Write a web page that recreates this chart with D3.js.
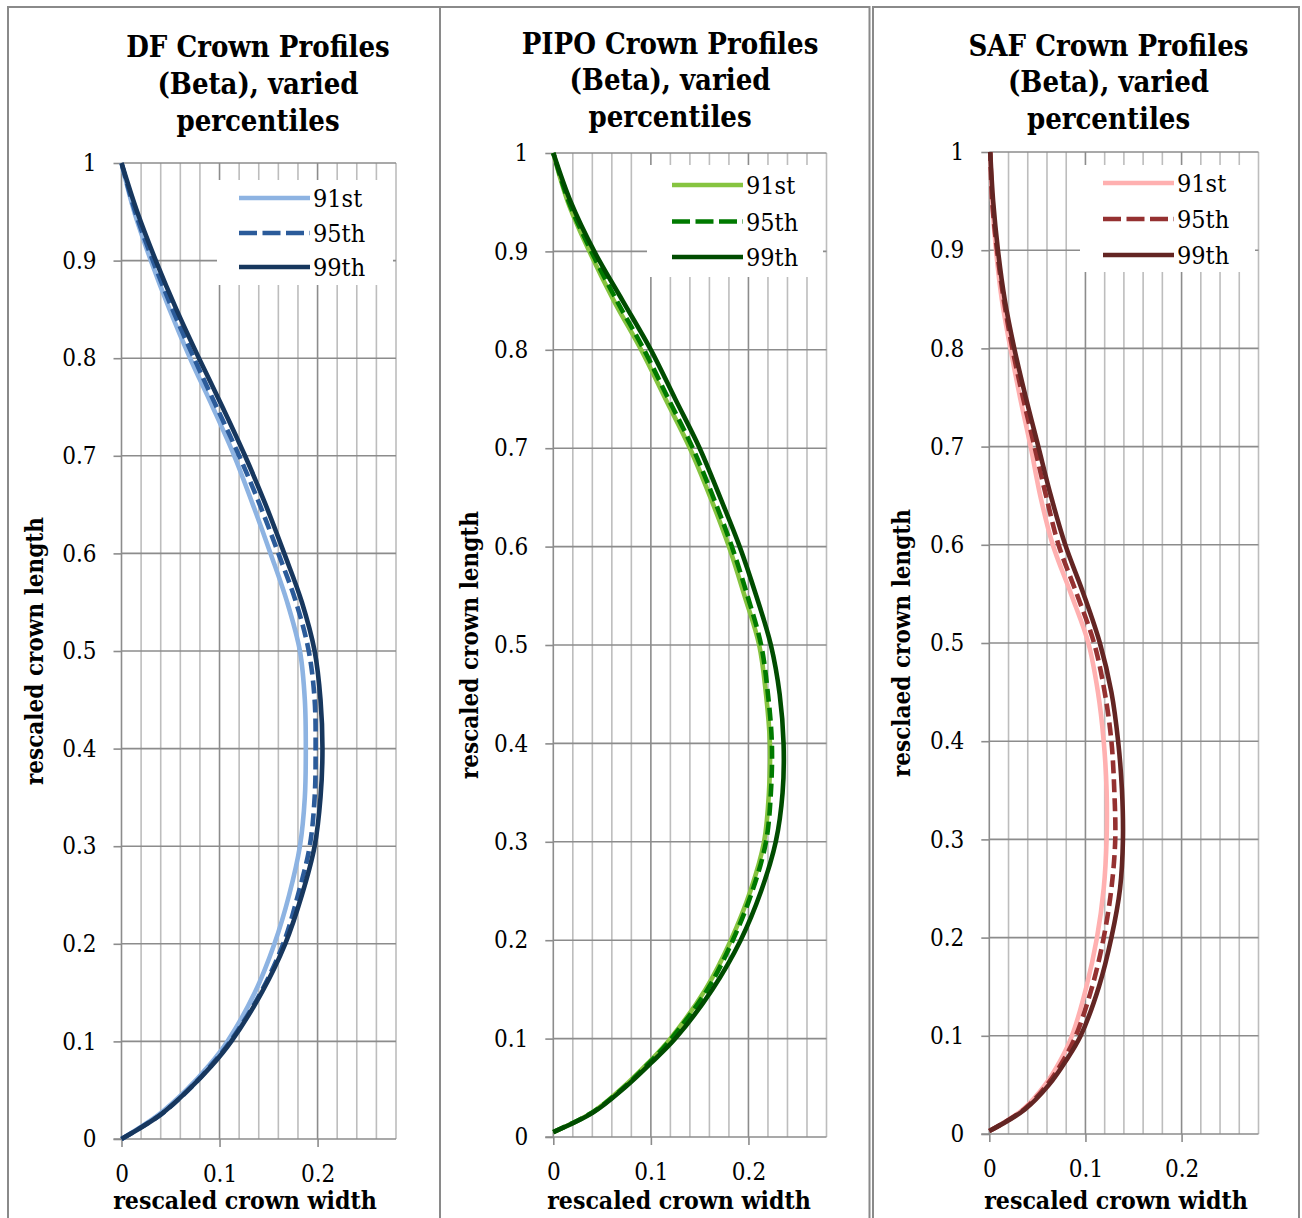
<!DOCTYPE html>
<html>
<head>
<meta charset="utf-8">
<script src="https://cdn.jsdelivr.net/npm/d3@7"></script>
<style>
  html, body { margin: 0; padding: 0; background: #fff; }
  svg { display: block; }
  text { font-family: "DejaVu Serif Condensed", "DejaVu Serif", serif; fill: #000; }
</style>
</head>
<body>
<svg id="chart" width="1302" height="1218"></svg>
<script>
// Tick values shared by all three panels
const widthTicks = [0, 0.1, 0.2];
const widthGrid = [0.02, 0.04, 0.06, 0.08, 0.1, 0.12, 0.14, 0.16, 0.18, 0.2, 0.22, 0.24, 0.26, 0.28];
const lengthTicks = [0, 0.1, 0.2, 0.3, 0.4, 0.5, 0.6, 0.7, 0.8, 0.9, 1];
const seriesNames = ["91st", "95th", "99th"];

// Douglas-fir
const dfLength = [0, 0.025, 0.05, 0.075, 0.1, 0.15, 0.2, 0.25, 0.3, 0.35, 0.4, 0.45, 0.5, 0.55, 0.6, 0.65, 0.7, 0.75, 0.8, 0.85, 0.9, 0.95, 1];
const dfWidth91 = [0, 0.038, 0.066, 0.089, 0.108, 0.136, 0.156, 0.171, 0.182, 0.187, 0.188, 0.187, 0.182, 0.169, 0.152, 0.134, 0.115, 0.093, 0.070, 0.049, 0.030, 0.013, 0];
const dfWidth95 = [0, 0.040, 0.068, 0.091, 0.111, 0.142, 0.165, 0.180, 0.192, 0.197, 0.198, 0.197, 0.191, 0.178, 0.160, 0.141, 0.120, 0.097, 0.074, 0.052, 0.032, 0.014, 0];
const dfWidth99 = [0, 0.040, 0.068, 0.092, 0.112, 0.143, 0.167, 0.184, 0.197, 0.203, 0.205, 0.203, 0.197, 0.184, 0.166, 0.147, 0.126, 0.103, 0.079, 0.056, 0.035, 0.016, 0];

// Ponderosa pine
const pipoLength = [0.005, 0.025, 0.05, 0.075, 0.1, 0.15, 0.2, 0.25, 0.3, 0.35, 0.4, 0.45, 0.5, 0.55, 0.6, 0.65, 0.7, 0.75, 0.8, 0.85, 0.9, 0.95, 1];
const pipoWidth91 = [0, 0.040, 0.071, 0.097, 0.120, 0.156, 0.182, 0.202, 0.216, 0.221, 0.222, 0.218, 0.211, 0.196, 0.180, 0.161, 0.140, 0.115, 0.090, 0.062, 0.037, 0.015, 0];
const pipoWidth95 = [0, 0.040, 0.072, 0.098, 0.121, 0.158, 0.184, 0.204, 0.218, 0.223, 0.224, 0.220, 0.213, 0.199, 0.183, 0.164, 0.143, 0.118, 0.093, 0.065, 0.039, 0.016, 0];
const pipoWidth99 = [0, 0.041, 0.073, 0.100, 0.125, 0.163, 0.192, 0.213, 0.228, 0.235, 0.236, 0.232, 0.223, 0.208, 0.191, 0.171, 0.150, 0.125, 0.100, 0.071, 0.042, 0.018, 0];

// Subalpine fir
const safLength = [0.003, 0.025, 0.05, 0.075, 0.1, 0.15, 0.2, 0.25, 0.3, 0.35, 0.4, 0.45, 0.5, 0.55, 0.6, 0.65, 0.7, 0.75, 0.8, 0.85, 0.9, 0.95, 1];
const safWidth91 = [0, 0.035, 0.058, 0.074, 0.086, 0.101, 0.112, 0.119, 0.122, 0.122, 0.119, 0.113, 0.103, 0.085, 0.066, 0.053, 0.043, 0.032, 0.022, 0.013, 0.007, 0.003, 0.001];
const safWidth95 = [0, 0.036, 0.060, 0.077, 0.090, 0.107, 0.119, 0.127, 0.131, 0.130, 0.127, 0.120, 0.109, 0.091, 0.072, 0.059, 0.047, 0.035, 0.024, 0.015, 0.008, 0.003, 0.001];
const safWidth99 = [0, 0.037, 0.062, 0.080, 0.095, 0.114, 0.127, 0.136, 0.139, 0.138, 0.134, 0.127, 0.115, 0.098, 0.079, 0.064, 0.051, 0.038, 0.026, 0.016, 0.009, 0.004, 0.001];

const dfTitle = ["DF Crown Profiles", "(Beta), varied", "percentiles"];
const pipoTitle = ["PIPO Crown Profiles", "(Beta), varied", "percentiles"];
const safTitle = ["SAF Crown Profiles", "(Beta), varied", "percentiles"];
const xTitle = "rescaled crown width";
const yTitles = ["rescaled crown length", "rescaled crown length", "resclaed crown length"];

// Panel layout and styling
const panels = [
  {
    frame: [8, 7, 440], plot: { x0: 121.5, x1: 396, yTop: 163, yBot: 1139 },
    titleX: 258, titleY: 57, xTitleX: 245, yTitleX: 43,
    legend: { x: 217, y: 180, w: 176, h: 105, lineX: 239, rows: [198, 233, 267] },
    length: dfLength, widths: [dfWidth91, dfWidth95, dfWidth99],
    colors: ["#8db3e2", "#2b5b9a", "#17375e"], title: dfTitle, yTitle: yTitles[0]
  },
  {
    frame: [440, 7, 869.5], plot: { x0: 553.3, x1: 826.5, yTop: 153, yBot: 1137 },
    titleX: 670, titleY: 53.5, xTitleX: 679, yTitleX: 478,
    legend: { x: 647, y: 165, w: 176, h: 112, lineX: 672, rows: [185, 221.5, 257] },
    length: pipoLength, widths: [pipoWidth91, pipoWidth95, pipoWidth99],
    colors: ["#86c440", "#007a00", "#004c00"], title: pipoTitle, yTitle: yTitles[1]
  },
  {
    frame: [873, 7, 1299], plot: { x0: 989.3, x1: 1258.5, yTop: 152, yBot: 1134 },
    titleX: 1108.5, titleY: 55.5, xTitleX: 1116, yTitleX: 910,
    legend: { x: 1080, y: 165, w: 175, h: 107, lineX: 1103, rows: [183, 219, 255] },
    length: safLength, widths: [safWidth91, safWidth95, safWidth99],
    colors: ["#ffb0b0", "#953131", "#632523"], title: safTitle, yTitle: yTitles[2]
  }
];

const svg = d3.select("#chart");
const fmt = d => String(+d.toFixed(1));

// Panel frames (open at the bottom edge)
panels.forEach(p => {
  const [l, t, r] = p.frame;
  svg.append("path")
    .attr("d", `M${l},1218 L${l},${t} L${r},${t} L${r},1218`)
    .attr("fill", "none").attr("stroke", "#8a8a8a").attr("stroke-width", 2);
});

panels.forEach(p => {
  const g = svg.append("g");
  const x = d3.scaleLinear().domain([0, 0.28]).range([p.plot.x0, p.plot.x1]);
  const y = d3.scaleLinear().domain([0, 1]).range([p.plot.yBot, p.plot.yTop]);

  // vertical gridlines every 0.02, darker at every 0.1
  g.append("g").selectAll("line").data(widthGrid).join("line")
    .attr("x1", d => x(d)).attr("x2", d => x(d))
    .attr("y1", y(0)).attr("y2", y(1))
    .attr("stroke", d => (Math.abs(d * 10 - Math.round(d * 10)) < 1e-6 ? "#8c8c8c" : "#bdbdbd"))
    .attr("stroke-width", 1.6);

  // horizontal gridlines at each length tick
  g.append("g").selectAll("line").data(lengthTicks.filter(d => d > 0)).join("line")
    .attr("x1", x(0)).attr("x2", x(0.28))
    .attr("y1", d => y(d)).attr("y2", d => y(d))
    .attr("stroke", "#8c8c8c").attr("stroke-width", 1.6);

  // axes
  const yAxis = d3.axisLeft(y).tickValues(lengthTicks).tickFormat(fmt).tickSize(8).tickPadding(17);
  const yg = g.append("g").attr("transform", `translate(${x(0)},0)`).call(yAxis);
  const xAxis = d3.axisBottom(x).tickValues(widthTicks).tickFormat(fmt).tickSize(8).tickPadding(18);
  const xg = g.append("g").attr("transform", `translate(0,${y(0)})`).call(xAxis);
  [yg, xg].forEach(a => {
    a.select(".domain").attr("stroke", "#8c8c8c").attr("stroke-width", 1.6);
    a.selectAll(".tick line").attr("stroke", "#8c8c8c").attr("stroke-width", 1.6);
    a.selectAll(".tick text").attr("font-size", 24)
      .style("font-family", '"DejaVu Serif Condensed", "DejaVu Serif", serif').attr("fill", "#000");
  });
  yg.select(".domain").attr("d", `M-8,${y(0)}H0V${y(1)}`);
  xg.select(".domain").attr("d", `M${x(0)},0H${x(0.28)}`);

  // legend box (covers the grid)
  const L = p.legend;
  g.append("rect").attr("x", L.x).attr("y", L.y).attr("width", L.w).attr("height", L.h).attr("fill", "#fff");

  // profile curves
  const line = d3.line()
    .x(d => x(d[0])).y(d => y(d[1]))
    .curve(d3.curveCatmullRom.alpha(0.5));
  p.widths.forEach((w, i) => {
    const pts = w.map((v, k) => [v, p.length[k]]);
    g.append("path").datum(pts)
      .attr("d", line)
      .attr("fill", "none")
      .attr("stroke", p.colors[i])
      .attr("stroke-width", 4.6)
      .attr("stroke-linejoin", "round")
      .attr("stroke-dasharray", i === 1 ? "13,6" : null);
  });

  // legend entries
  seriesNames.forEach((name, i) => {
    const ly = L.rows[i];
    g.append("line")
      .attr("x1", L.lineX).attr("x2", L.lineX + 71)
      .attr("y1", ly).attr("y2", ly)
      .attr("stroke", p.colors[i]).attr("stroke-width", 4.6)
      .attr("stroke-dasharray", i === 1 ? "18,5.5" : null);
    g.append("text")
      .attr("x", L.lineX + 74).attr("y", ly).attr("dy", "0.36em")
      .attr("font-size", 25).text(name);
  });

  // chart title
  g.append("text")
    .attr("x", p.titleX).attr("y", p.titleY)
    .attr("text-anchor", "middle").attr("font-weight", "bold").attr("font-size", 29)
    .selectAll("tspan").data(p.title).join("tspan")
    .attr("x", p.titleX).attr("dy", (d, i) => (i === 0 ? 0 : 36.8))
    .text(d => d);

  // axis titles
  g.append("text")
    .attr("x", p.xTitleX).attr("y", 1209)
    .attr("text-anchor", "middle").attr("font-weight", "bold").attr("font-size", 24.6)
    .text(xTitle);
  g.append("text")
    .attr("transform", `translate(${p.yTitleX},${(p.plot.yTop + p.plot.yBot) / 2}) rotate(-90)`)
    .attr("text-anchor", "middle").attr("font-weight", "bold").attr("font-size", 24)
    .text(p.yTitle);
});
</script>
</body>
</html>
